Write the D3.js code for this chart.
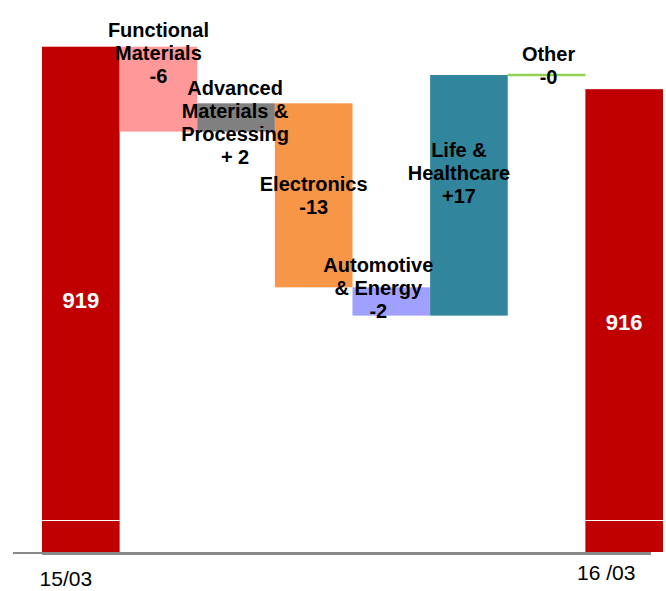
<!DOCTYPE html>
<html>
<head>
<meta charset="utf-8">
<script src="https://cdn.jsdelivr.net/npm/d3@7"></script>
<style>
  html, body { margin: 0; padding: 0; background: #fff; }
  svg { display: block; }
  text { font-family: "Liberation Sans", Arial, "DejaVu Sans", sans-serif; }
</style>
</head>
<body>
<svg id="chart" width="666" height="591"></svg>
<script>
// Sales bridge, 15/03 -> 16/03 (by segment)
const categories = ["15/03", "Functional Materials", "Advanced Materials & Processing",
  "Electronics", "Automotive & Energy", "Life & Healthcare", "Other", "16 /03"];
const values = [919, -6, 2, -13, -2, 17, -0, 916];
const kinds = ["total", "delta", "delta", "delta", "delta", "delta", "delta", "total"];
const valueLabels = ["919", "-6", "+ 2", "-13", "-2", "+17", "-0", "916"];
const nameLines = [
  [],
  ["Functional", "Materials"],
  ["Advanced", "Materials &", "Processing"],
  ["Electronics"],
  ["Automotive", "& Energy"],
  ["Life &", "Healthcare"],
  ["Other"],
  []
];
const colors = ["#C00000", "#FF9999", "#808080", "#F79646", "#A0A0FF", "#31859C", "#92D050", "#C00000"];

// label placement: anchor on the bar ("top" edge or "center") and first-baseline offset, plus x shift
const labelLayout = [
  null,
  { anchor: "top", dy: -10, dx: 0 },
  { anchor: "top", dy: -8, dx: -1 },
  { anchor: "center", dy: -4, dx: 0 },
  { anchor: "top", dy: -15, dx: -13 },
  { anchor: "center", dy: -38, dx: -10 },
  { anchor: "top", dy: -14, dx: 2 },
  null
];

const svg = d3.select("#chart");
const baseY = 552;

const x = d3.scaleBand().domain(categories).range([42, 663]).padding(0);
// truncated value axis (broken near the bottom)
const y = d3.scaleLinear().domain([883.3, 922.3]).range([baseY, 0]);

// build waterfall segments
let level = 0;
const bars = categories.map((c, i) => {
  let lo, hi;
  if (kinds[i] === "total") {
    level = values[i];
    lo = y.domain()[0];
    hi = values[i];
  } else {
    const start = level;
    level = start + values[i];
    lo = Math.min(start, level);
    hi = Math.max(start, level);
  }
  return { c, i, lo, hi, end: level };
});

const g = svg.append("g");

g.selectAll("rect.bar")
  .data(bars.filter(d => d.hi > d.lo))
  .join("rect")
  .attr("class", "bar")
  .attr("x", d => x(d.c))
  .attr("width", x.bandwidth())
  .attr("y", d => y(d.hi))
  .attr("height", d => y(d.lo) - y(d.hi))
  .attr("fill", d => colors[d.i]);

// zero-size changes are drawn as a flat line
g.selectAll("line.flat")
  .data(bars.filter(d => d.hi === d.lo))
  .join("line")
  .attr("class", "flat")
  .attr("x1", d => x(d.c))
  .attr("x2", d => x(d.c) + x.bandwidth())
  .attr("y1", d => y(d.hi))
  .attr("y2", d => y(d.hi))
  .attr("stroke", d => colors[d.i])
  .attr("stroke-width", 2.5);

// axis break marks on the total bars
g.selectAll("line.break")
  .data(bars.filter(d => kinds[d.i] === "total"))
  .join("line")
  .attr("class", "break")
  .attr("x1", d => x(d.c))
  .attr("x2", d => x(d.c) + x.bandwidth())
  .attr("y1", baseY - 31.5)
  .attr("y2", baseY - 31.5)
  .attr("stroke", "#fff")
  .attr("stroke-width", 1);

// baseline
svg.append("line")
  .attr("x1", 13).attr("x2", 651)
  .attr("y1", baseY + 1).attr("y2", baseY + 1)
  .attr("stroke", "#888").attr("stroke-width", 2);
svg.append("line")
  .attr("x1", x(categories[0])).attr("x2", 651)
  .attr("y1", baseY + 1.5).attr("y2", baseY + 1.5)
  .attr("stroke", "#888").attr("stroke-width", 3);

// value labels inside the total bars
g.selectAll("text.total")
  .data(bars.filter(d => kinds[d.i] === "total"))
  .join("text")
  .attr("class", "total")
  .attr("x", d => x(d.c) + x.bandwidth() / 2)
  .attr("y", d => (y(d.hi) + y(d.lo)) / 2 + 9)
  .attr("text-anchor", "middle")
  .attr("fill", "#fff")
  .attr("font-weight", "bold")
  .attr("font-size", 22)
  .text(d => valueLabels[d.i]);

// segment names with their changes
const lineH = 23;
bars.filter(d => kinds[d.i] === "delta").forEach(d => {
  const L = labelLayout[d.i];
  const ref = L.anchor === "top" ? y(d.hi) : (y(d.hi) + y(d.lo)) / 2;
  const lines = nameLines[d.i].concat([valueLabels[d.i]]);
  const t = g.append("text")
    .attr("text-anchor", "middle")
    .attr("font-weight", "bold")
    .attr("font-size", 20)
    .attr("fill", "#000");
  lines.forEach((s, k) => {
    t.append("tspan")
      .attr("x", x(d.c) + x.bandwidth() / 2 + L.dx)
      .attr("y", ref + L.dy + k * lineH)
      .text(s);
  });
});

// period labels under the axis
svg.append("text")
  .attr("x", x(categories[0]) + x.bandwidth() / 2 - 15)
  .attr("y", 586)
  .attr("text-anchor", "middle")
  .attr("font-size", 21)
  .attr("fill", "#000")
  .text(categories[0]);
svg.append("text")
  .attr("x", x(categories[7]) + x.bandwidth() / 2 - 18)
  .attr("y", 580)
  .attr("text-anchor", "middle")
  .attr("font-size", 21)
  .attr("fill", "#000")
  .text(categories[7]);
</script>
</body>
</html>
